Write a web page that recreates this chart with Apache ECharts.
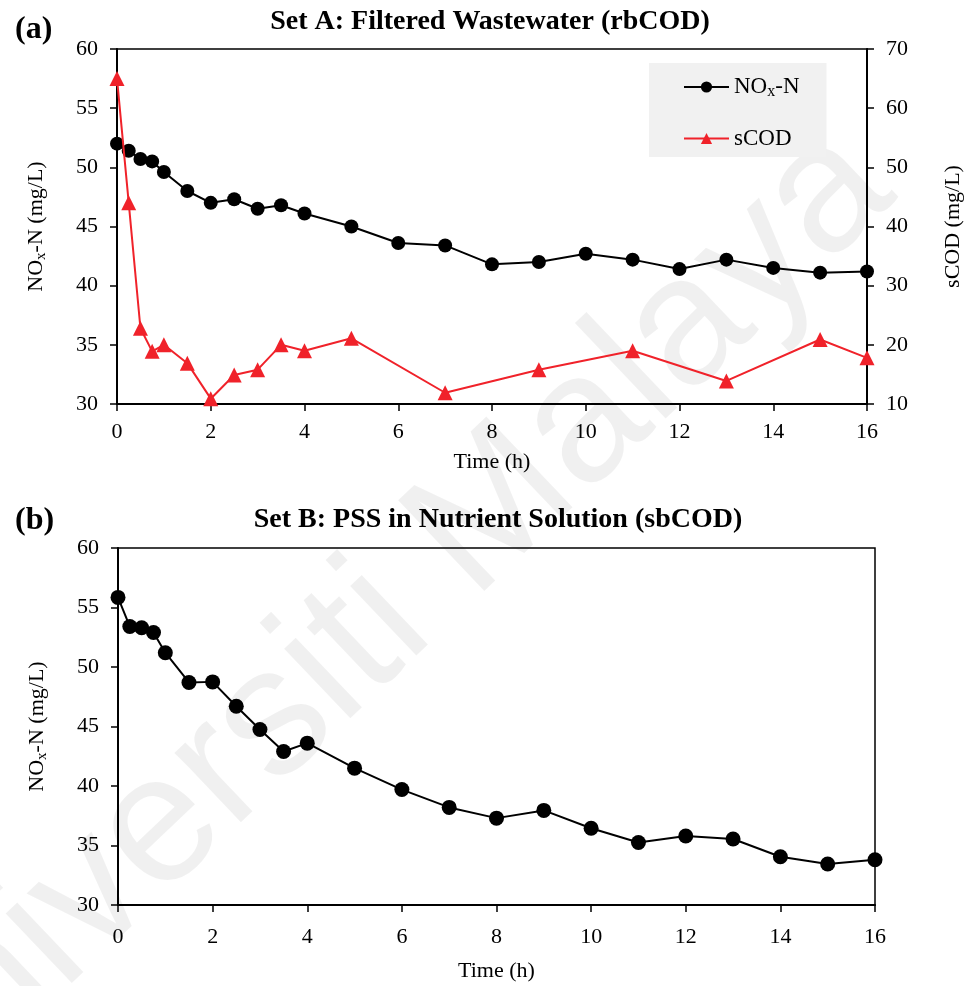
<!DOCTYPE html>
<html>
<head>
<meta charset="utf-8">
<script src="https://cdn.jsdelivr.net/npm/echarts@6/dist/echarts.min.js"></script>
<style>html,body{margin:0;padding:0;background:#fff;}#c{width:972px;height:986px;}</style>
</head>
<body>
<div id="c"></div>
<script>
// Set A (filtered wastewater)
const timeA = [0,0.25,0.5,0.75,1,1.5,2,2.5,3,3.5,4,5,6,7,8,9,10,11,12,13,14,15,16];
const noxA  = [52.0,51.4,50.7,50.5,49.6,48.0,47.0,47.3,46.5,46.8,46.1,45.0,43.6,43.4,41.8,42.0,42.7,42.2,41.4,42.2,41.5,41.1,41.2];
const timeCOD = [0,0.25,0.5,0.75,1,1.5,2,2.5,3,3.5,4,5,7,9,11,13,15,16];
const scodA   = [65.0,44.0,22.8,18.9,20.0,16.9,10.9,14.9,15.8,20.0,19.0,21.1,11.9,15.8,19.0,13.9,20.9,17.8];
// Set B (PSS in nutrient solution)
const timeB = [0,0.25,0.5,0.75,1,1.5,2,2.5,3,3.5,4,5,6,7,8,9,10,11,12,13,14,15,16];
const noxB  = [55.85,53.4,53.3,52.9,51.2,48.7,48.75,46.7,44.75,42.9,43.6,41.5,39.7,38.2,37.3,37.95,36.45,35.25,35.8,35.55,34.05,33.45,33.8];
// axis ticks
const xTicks = {min:0, max:16, interval:2};
const noxTicks = {min:30, max:60, interval:5};
const codTicks = {min:10, max:70, interval:10};

const pair = (xs, ys) => xs.map((x,i)=>[x, ys[i]]);
const FONT = 'Liberation Serif';
const richName = {
  a:{fontFamily:FONT, fontSize:22, color:'#000', lineHeight:26},
  s:{fontFamily:FONT, fontSize:15, color:'#000', lineHeight:26, verticalAlign:'bottom', padding:[9,0,0,0]}
};
const richLeg = {
  a:{fontFamily:FONT, fontSize:23, color:'#000', lineHeight:26},
  s:{fontFamily:FONT, fontSize:16, color:'#000', lineHeight:26, verticalAlign:'bottom', padding:[9,0,0,0]}
};
const axisLabel = {color:'#000', fontFamily:FONT, fontSize:22};
const axisCommon = {
  axisLine:{show:true, onZero:false, lineStyle:{color:'#000', width:2}},
  axisTick:{show:true, inside:false, length:7, lineStyle:{color:'#000', width:1.5}},
  splitLine:{show:false},
  nameTextStyle:{color:'#000', fontFamily:FONT, fontSize:22, rich:richName}
};

const chart = echarts.init(document.getElementById('c'), null, {renderer:'canvas'});
chart.setOption({
  animation:false,
  backgroundColor:'#fff',
  graphic:[{
    type:'text', z:-10, silent:true,
    x:362, y:638, rotation:0.76,
    style:{text:'Universiti Malaya', fontFamily:'Liberation Sans', fontSize:182, fill:'rgba(0,0,0,0.06)', textAlign:'center', textVerticalAlign:'middle'}
  }],
  title:[
    {text:'(a)', left:10, top:9, textStyle:{fontFamily:FONT, fontWeight:'bold', fontSize:32, color:'#000'}},
    {text:'Set A: Filtered Wastewater (rbCOD)', left:485, top:3, textAlign:'center', textStyle:{fontFamily:FONT, fontWeight:'bold', fontSize:28, color:'#000'}},
    {text:'(b)', left:10, top:500, textStyle:{fontFamily:FONT, fontWeight:'bold', fontSize:32, color:'#000'}},
    {text:'Set B: PSS in Nutrient Solution (sbCOD)', left:493, top:501, textAlign:'center', textStyle:{fontFamily:FONT, fontWeight:'bold', fontSize:28, color:'#000'}}
  ],
  legend:{
    left:649, top:63, orient:'vertical', itemGap:27,
    itemWidth:45, itemHeight:14,
    backgroundColor:'#f1f1f1', padding:[12,27,7,34],
    data:['NOx-N','sCOD'],
    formatter: n => n==='NOx-N' ? '{a|NO}{s|x}{a|-N}' : '{a|sCOD}',
    textStyle:{rich:richLeg, fontFamily:FONT, fontSize:23, color:'#000'}
  },
  grid:[
    {left:117, top:49, width:750, height:355, show:true, borderColor:'#000', borderWidth:1.5, backgroundColor:'transparent'},
    {left:118, top:548, width:757, height:357, show:true, borderColor:'#000', borderWidth:1.5, backgroundColor:'transparent'}
  ],
  xAxis:[
    Object.assign({}, axisCommon, {gridIndex:0, type:'value', min:xTicks.min, max:xTicks.max, interval:xTicks.interval,
      axisLabel:Object.assign({}, axisLabel, {margin:17}),
      name:'Time (h)', nameLocation:'middle', nameGap:47}),
    Object.assign({}, axisCommon, {gridIndex:1, type:'value', min:xTicks.min, max:xTicks.max, interval:xTicks.interval,
      axisLabel:Object.assign({}, axisLabel, {margin:21}),
      name:'Time (h)', nameLocation:'middle', nameGap:55})
  ],
  yAxis:[
    Object.assign({}, axisCommon, {gridIndex:0, type:'value', min:noxTicks.min, max:noxTicks.max, interval:noxTicks.interval,
      position:'left', name:'{a|NO}{s|x}{a|-N (mg/L)}', nameLocation:'middle', nameGap:68,
      axisLabel:Object.assign({}, axisLabel, {margin:19})}),
    Object.assign({}, axisCommon, {gridIndex:0, type:'value', min:codTicks.min, max:codTicks.max, interval:codTicks.interval,
      position:'right', name:'sCOD (mg/L)', nameLocation:'middle', nameGap:75, nameRotate:90,
      axisLabel:Object.assign({}, axisLabel, {margin:19})}),
    Object.assign({}, axisCommon, {gridIndex:1, type:'value', min:noxTicks.min, max:noxTicks.max, interval:noxTicks.interval,
      position:'left', name:'{a|NO}{s|x}{a|-N (mg/L)}', nameLocation:'middle', nameGap:68,
      axisLabel:Object.assign({}, axisLabel, {margin:19})})
  ],
  series:[
    {name:'NOx-N', type:'line', xAxisIndex:0, yAxisIndex:0, data:pair(timeA, noxA),
      symbol:'circle', symbolSize:14, itemStyle:{color:'#000'}, lineStyle:{color:'#000', width:2}, z:3},
    {name:'sCOD', type:'line', xAxisIndex:0, yAxisIndex:1, data:pair(timeCOD, scodA),
      symbol:'triangle', symbolSize:15, itemStyle:{color:'#f0222a'}, lineStyle:{color:'#f0222a', width:2}, z:4},
    {name:'NOx-N B', type:'line', xAxisIndex:1, yAxisIndex:2, data:pair(timeB, noxB),
      symbol:'circle', symbolSize:15, itemStyle:{color:'#000'}, lineStyle:{color:'#000', width:2}, z:3}
  ]
});
</script>
</body>
</html>
